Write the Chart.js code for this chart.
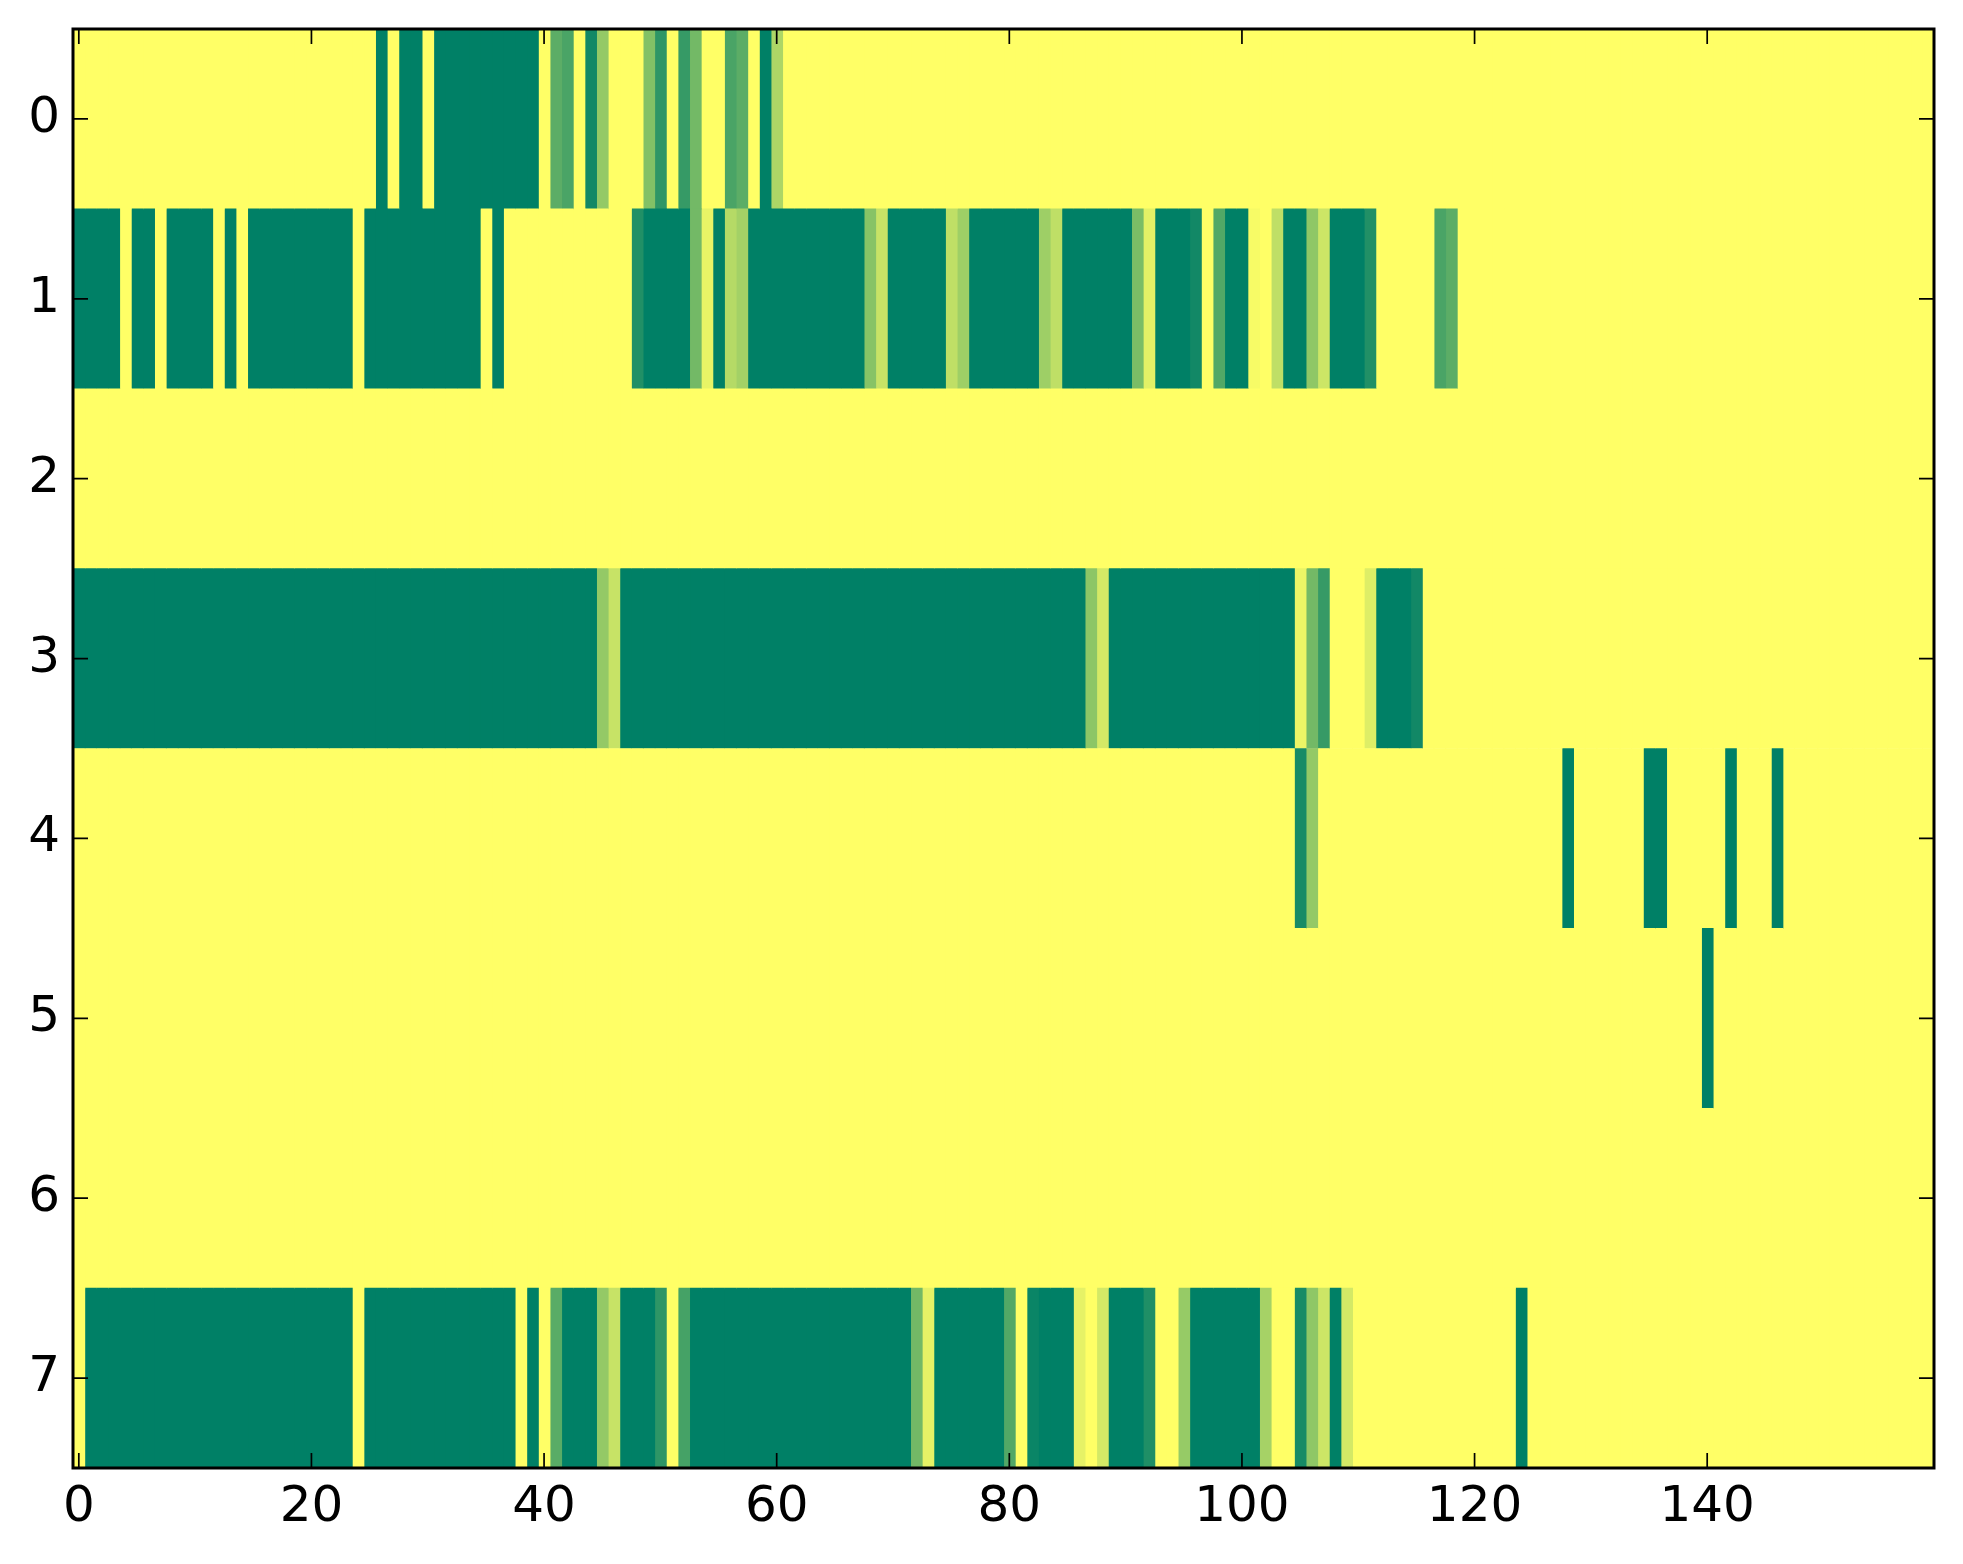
<!DOCTYPE html>
<html>
<head>
<meta charset="utf-8">
<script src="https://cdn.jsdelivr.net/npm/chart.js@4.4.0/dist/chart.umd.min.js"></script>
<style>
html,body{margin:0;padding:0;background:#ffffff;}
canvas{display:block;}
</style>
</head>
<body>
<canvas id="c" width="1963" height="1564"></canvas>
<script>
// ---- data ----
const rowLabels = ['0','1','2','3','4','5','6','7'];
const xTickValues = [0,20,40,60,80,100,120,140];

const row0 = [
0,0,0,0,0,0,0,0,0,0,
0,0,0,0,0,0,0,0,0,0,
0,0,0,0,0,0,1,0,1,1,
0,1,1,1,1,1,1,1,1,1,
0,0.64,0.71,0,0.93,0.42,0,0,0,0.49,
0.82,0,0.79,0.55,0,0,0.71,0.64,0,1,
0.32,0,0,0,0,0,0,0,0,0,
0,0,0,0,0,0,0,0,0,0,
0,0,0,0,0,0,0,0,0,0,
0,0,0,0,0,0,0,0,0,0,
0,0,0,0,0,0,0,0,0,0,
0,0,0,0,0,0,0,0,0,0,
0,0,0,0,0,0,0,0,0,0,
0,0,0,0,0,0,0,0,0,0,
0,0,0,0,0,0,0,0,0,0,
0,0,0,0,0,0,0,0,0,0
];
const row1 = [
1,1,1,1,0,1,1,0,1,1,
1,1,0,1,0,1,1,1,1,1,
1,1,1,1,0,1,1,1,1,1,
1,1,1,1,1,0,1,0,0,0,
0,0,0,0,0,0,0,0,0.87,1,
1,1,1,0.55,0.09,1,0.29,0.36,1,1,
1,1,1,1,1,1,1,1,0.47,0.22,
1,1,1,1,1,0.25,0.38,1,1,1,
1,1,1,0.38,0.25,1,1,1,1,1,
1,0.52,0.11,1,1,1,0.93,0,0.68,1,
1,0.03,0,0.25,1,1,0.44,0.2,1,1,
1,0.87,0,0,0,0,0,0.71,0.64,0,
0,0,0,0,0,0,0,0,0,0,
0,0,0,0,0,0,0,0,0,0,
0,0,0,0,0,0,0,0,0,0,
0,0,0,0,0,0,0,0,0,0
];
const row2 = [
0,0,0,0,0,0,0,0,0,0,
0,0,0,0,0,0,0,0,0,0,
0,0,0,0,0,0,0,0,0,0,
0,0,0,0,0,0,0,0,0,0,
0,0,0,0,0,0,0,0,0,0,
0,0,0,0,0,0,0,0,0,0,
0,0,0,0,0,0,0,0,0,0,
0,0,0,0,0,0,0,0,0,0,
0,0,0,0,0,0,0,0,0,0,
0,0,0,0,0,0,0,0,0,0,
0,0,0,0,0,0,0,0,0,0,
0,0,0,0,0,0,0,0,0,0,
0,0,0,0,0,0,0,0,0,0,
0,0,0,0,0,0,0,0,0,0,
0,0,0,0,0,0,0,0,0,0,
0,0,0,0,0,0,0,0,0,0
];
const row3 = [
1,1,1,1,1,1,1,1,1,1,
1,1,1,1,1,1,1,1,1,1,
1,1,1,1,1,1,1,1,1,1,
1,1,1,1,1,1,1,1,1,1,
1,1,1,1,1,0.42,0.22,1,1,1,
1,1,1,1,1,1,1,1,1,1,
1,1,1,1,1,1,1,1,1,1,
1,1,1,1,1,1,1,1,1,1,
1,1,1,1,1,1,1,0.45,0.17,1,
1,1,1,1,1,1,1,1,1,1,
1,1,1,1,1,0.08,0.55,0.79,0,0,
0,0.13,1,1,1,0.93,0,0,0,0,
0,0,0,0,0,0,0,0,0,0,
0,0,0,0,0,0,0,0,0,0,
0,0,0,0,0,0,0,0,0,0,
0,0,0,0,0,0,0,0,0,0
];
const row4 = [
0,0,0,0,0,0,0,0,0,0,
0,0,0,0,0,0,0,0,0,0,
0,0,0,0,0,0,0,0,0,0,
0,0,0,0,0,0,0,0,0,0,
0,0,0,0,0,0,0,0,0,0,
0,0,0,0,0,0,0,0,0,0,
0,0,0,0,0,0,0,0,0,0,
0,0,0,0,0,0,0,0,0,0,
0,0,0,0,0,0,0,0,0,0,
0,0,0,0,0,0,0,0,0,0,
0,0,0,0,0,0.91,0.42,0,0,0,
0,0,0,0,0,0,0,0,0,0,
0,0,0,0,0,0,0,0,1,0,
0,0,0,0,0,1,1,0,0,0,
0,0,1,0,0,0,1,0,0,0,
0,0,0,0,0,0,0,0,0,0
];
const row5 = [
0,0,0,0,0,0,0,0,0,0,
0,0,0,0,0,0,0,0,0,0,
0,0,0,0,0,0,0,0,0,0,
0,0,0,0,0,0,0,0,0,0,
0,0,0,0,0,0,0,0,0,0,
0,0,0,0,0,0,0,0,0,0,
0,0,0,0,0,0,0,0,0,0,
0,0,0,0,0,0,0,0,0,0,
0,0,0,0,0,0,0,0,0,0,
0,0,0,0,0,0,0,0,0,0,
0,0,0,0,0,0,0,0,0,0,
0,0,0,0,0,0,0,0,0,0,
0,0,0,0,0,0,0,0,0,0,
0,0,0,0,0,0,0,0,0,0,
1,0,0,0,0,0,0,0,0,0,
0,0,0,0,0,0,0,0,0,0
];
const row6 = [
0,0,0,0,0,0,0,0,0,0,
0,0,0,0,0,0,0,0,0,0,
0,0,0,0,0,0,0,0,0,0,
0,0,0,0,0,0,0,0,0,0,
0,0,0,0,0,0,0,0,0,0,
0,0,0,0,0,0,0,0,0,0,
0,0,0,0,0,0,0,0,0,0,
0,0,0,0,0,0,0,0,0,0,
0,0,0,0,0,0,0,0,0,0,
0,0,0,0,0,0,0,0,0,0,
0,0,0,0,0,0,0,0,0,0,
0,0,0,0,0,0,0,0,0,0,
0,0,0,0,0,0,0,0,0,0,
0,0,0,0,0,0,0,0,0,0,
0,0,0,0,0,0,0,0,0,0,
0,0,0,0,0,0,0,0,0,0
];
const row7 = [
0,1,1,1,1,1,1,1,1,1,
1,1,1,1,1,1,1,1,1,1,
1,1,1,1,0,1,1,1,1,1,
1,1,1,1,1,1,1,1,0,1,
0,0.65,1,1,1,0.42,0.22,1,1,1,
0.82,0,0.73,1,1,1,1,1,1,1,
1,1,1,1,1,1,1,1,1,1,
1,1,0.55,0.1,1,1,1,1,1,1,
0.68,0,0.96,1,1,1,0.1,0,0.17,1,
1,1,0.88,0,0,0.41,1,1,1,1,
1,1,0.35,0,0,0.91,0.44,0.2,1,0.17,
0,0,0,0,0,0,0,0,0,0,
0,0,0,0,1,0,0,0,0,0,
0,0,0,0,0,0,0,0,0,0,
0,0,0,0,0,0,0,0,0,0,
0,0,0,0,0,0,0,0,0,0
];

const rows = [row0,row1,row2,row3,row4,row5,row6,row7];
const nCols = row0.length;

// matplotlib "summer_r" colormap
function summerR(v){
  const r = Math.round(255*(1-v));
  const g = Math.round(255*(1-v/2));
  const b = 102;
  return 'rgb(' + r + ',' + g + ',' + b + ')';
}

const datasets = [];
for (let c = 0; c < nCols; c++) {
  datasets.push({
    data: rows.map(() => [c - 0.5, c + 0.52]),
    backgroundColor: rows.map(r => summerR(r[c])),
    borderWidth: 0,
    borderSkipped: false,
    barPercentage: 1,
    categoryPercentage: 1,
    grouped: false
  });
}

const framePlugin = {
  id: 'frame',
  afterDraw(chart){
    const ctx = chart.ctx, a = chart.chartArea;
    const xs = chart.scales.x, ys = chart.scales.y;
    const L = 15;
    ctx.save();
    ctx.strokeStyle = '#000';
    ctx.lineWidth = 1.7;
    ctx.beginPath();
    xs.ticks.forEach(t => {
      const px = xs.getPixelForValue(t.value);
      ctx.moveTo(px, a.bottom); ctx.lineTo(px, a.bottom - L);
      ctx.moveTo(px, a.top); ctx.lineTo(px, a.top + L);
    });
    ys.ticks.forEach((t, i) => {
      const py = ys.getPixelForTick(i);
      ctx.moveTo(a.left, py); ctx.lineTo(a.left + L, py);
      ctx.moveTo(a.right, py); ctx.lineTo(a.right - L, py);
    });
    ctx.stroke();
    ctx.lineWidth = 3;
    ctx.strokeRect(a.left, a.top, a.right - a.left, a.bottom - a.top);
    ctx.restore();
  }
};

const fontSpec = {family: '"DejaVu Sans", sans-serif', size: 50};

new Chart(document.getElementById('c').getContext('2d'), {
  type: 'bar',
  data: {labels: rowLabels, datasets: datasets},
  options: {
    indexAxis: 'y',
    responsive: false,
    animation: false,
    devicePixelRatio: 1,
    layout: {padding: {top: 29, right: 29, left: 0, bottom: 0}},
    plugins: {legend: {display: false}, tooltip: {enabled: false}},
    scales: {
      x: {
        type: 'linear',
        min: -0.5,
        max: nCols - 0.5,
        afterBuildTicks: s => { s.ticks = xTickValues.map(v => ({value: v})); },
        grid: {display: true, drawOnChartArea: false, drawTicks: false},
        border: {display: false},
        ticks: {font: fontSpec, color: '#000', padding: 10, maxRotation: 0, autoSkip: false},
        afterFit: s => { s.height = 96; s.paddingLeft = 0; s.paddingRight = 0; }
      },
      y: {
        type: 'category',
        offset: true,
        grid: {display: true, drawOnChartArea: false, drawTicks: false, offset: true},
        border: {display: false},
        ticks: {font: fontSpec, color: '#000', padding: 13},
        afterFit: s => { s.width = 73; s.paddingTop = 0; s.paddingBottom = 0; }
      }
    }
  },
  plugins: [framePlugin]
});
</script>
</body>
</html>
